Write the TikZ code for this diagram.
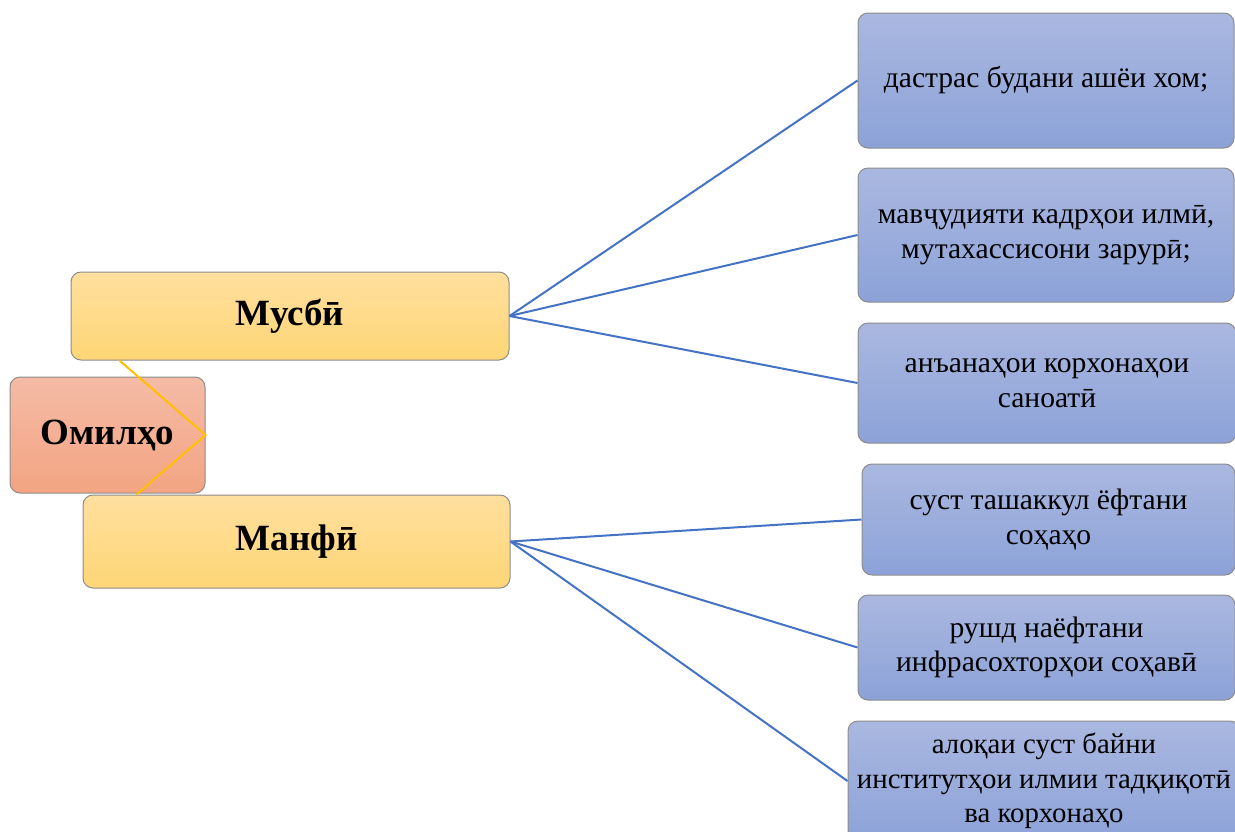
\documentclass[tikz,border=0pt]{standalone}
\usepackage{fontspec}
\setmainfont{LiberationSerif}[Extension=.ttf, UprightFont=*-Regular, BoldFont=*-Bold, ItalicFont=*-Italic, BoldItalicFont=*-BoldItalic]
\usetikzlibrary{calc}
\definecolor{bordergray}{HTML}{8C8C8C}
\definecolor{redtop}{HTML}{F5BBA6}
\definecolor{redbot}{HTML}{F3A482}
\definecolor{yeltop}{HTML}{FFDF9E}
\definecolor{yelbot}{HTML}{FED676}
\definecolor{blutop}{HTML}{AAB8E0}
\definecolor{blubot}{HTML}{8CA2D8}
\definecolor{linkblue}{HTML}{4472C4}
\definecolor{linkyel}{HTML}{FFC000}
\tikzset{
  basebox/.style={draw=bordergray, line width=1pt, rounded corners=10pt, align=center, inner sep=0pt},
  rootbox/.style={basebox, top color=redtop, bottom color=redbot, font=\fontsize{37}{42}\selectfont\bfseries},
  catbox/.style={basebox, top color=yeltop, bottom color=yelbot, font=\fontsize{37}{42}\selectfont\bfseries},
  itembox/.style={basebox, top color=blutop, bottom color=blubot, font=\fontsize{29.6}{34.5}\selectfont},
  bluelink/.style={draw=linkblue, line width=2pt},
  yellink/.style={draw=linkyel, line width=2pt},
}
\begin{document}
\begin{tikzpicture}[x=1pt,y=-1pt]
\useasboundingbox (0,0) rectangle (1235,831);
\node[rootbox, minimum width=195pt, minimum height=116pt] (root) at (107.5,435) {Омилҳо};
\node[catbox, minimum width=438pt, minimum height=88pt] (pos) at (290,316) {\raisebox{-2pt}{Мусбӣ}};
\node[catbox, minimum width=427pt, minimum height=93pt] (neg) at (296.5,541.5) {\raisebox{-2pt}{Манфӣ}};
\node[itembox, minimum width=376pt, minimum height=135pt] (b1) at (1046,80.5) {дастрас будани ашёи хом;};
\node[itembox, minimum width=376pt, minimum height=134pt] (b2) at (1046,235) {мавҷудияти кадрҳои илмӣ,\\мутахассисони зарурӣ;};
\node[itembox, minimum width=378pt, minimum height=120pt] (b3) at (1047,383) {анъанаҳои корхонаҳои\\саноатӣ};
\node[itembox, minimum width=373pt, minimum height=111pt] (b4) at (1048.5,519.5) {суст ташаккул ёфтани\\соҳаҳо};
\node[itembox, minimum width=377pt, minimum height=105pt] (b5) at (1046.5,647.5) {рушд наёфтани\\инфрасохторҳои соҳавӣ};
\node[itembox, font=\fontsize{28.8}{34.5}\selectfont, minimum width=392pt, minimum height=120pt] (b6) at (1044,781) {алоқаи суст байни\\институтҳои илмии тадқиқотӣ\\ва корхонаҳо};
\draw[yellink] ([xshift=49pt]pos.south west) -- (root.east) -- ([xshift=54pt]neg.north west);
\draw[bluelink] (pos.east) -- (b1.west);
\draw[bluelink] (pos.east) -- (b2.west);
\draw[bluelink] (pos.east) -- (b3.west);
\draw[bluelink] (neg.east) -- (b4.west);
\draw[bluelink] (neg.east) -- (b5.west);
\draw[bluelink] (neg.east) -- (b6.west);
\end{tikzpicture}
\end{document}
